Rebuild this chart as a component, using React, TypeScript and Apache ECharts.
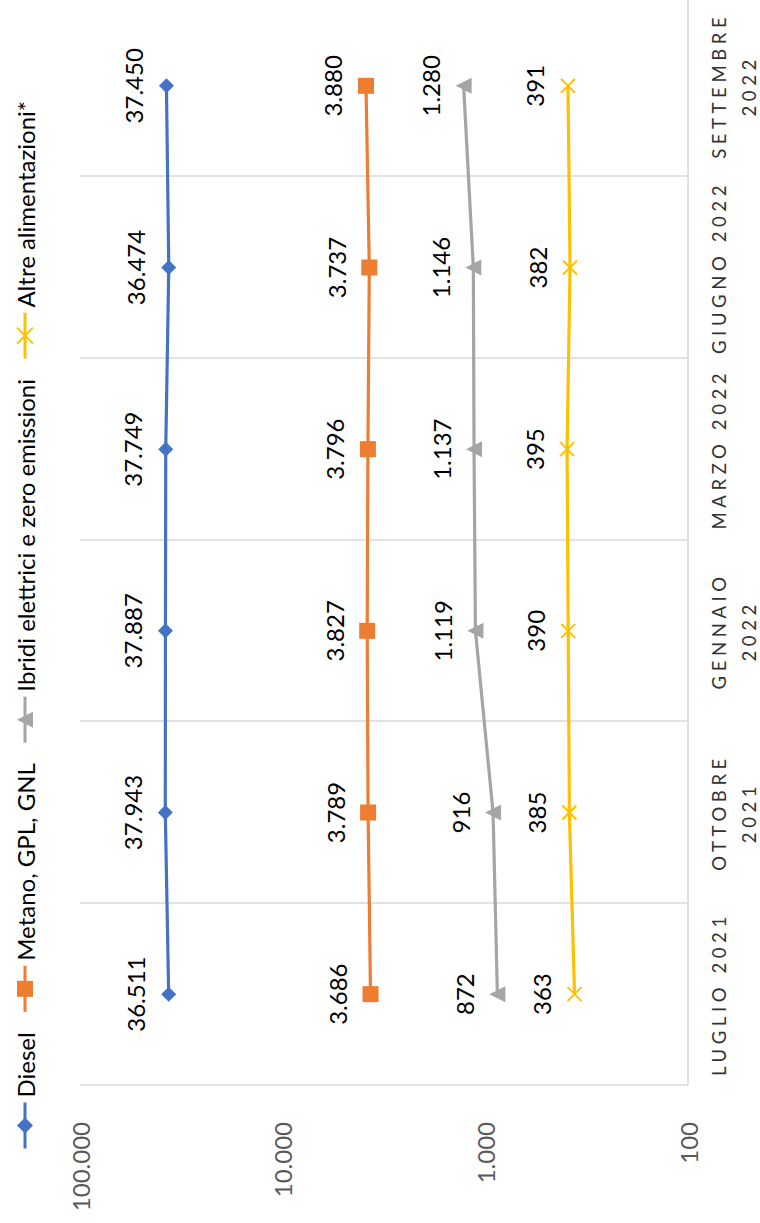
import React, { useEffect, useRef } from "react";
import * as echarts from "echarts";

// ---- data ----
const categories = [
  "LUGLIO 2021",
  "OTTOBRE\n2021",
  "GENNAIO\n2022",
  "MARZO 2022",
  "GIUGNO 2022",
  "SETTEMBRE\n2022",
];
const seriesNames = [
  "Diesel",
  "Metano, GPL, GNL",
  "Ibridi elettrici e zero emissioni",
  "Altre alimentazioni*",
];
const diesel = [36511, 37943, 37887, 37749, 36474, 37450];
const metano = [3686, 3789, 3827, 3796, 3737, 3880];
const ibridi = [872, 916, 1119, 1137, 1146, 1280];
const altre = [363, 385, 390, 395, 382, 391];
const valueAxisMin = 100;
const valueAxisMax = 100000;

const fmt = (n: number) =>
  String(Math.round(n)).replace(/\B(?=(\d{3})+(?!\d))/g, ".");

const CW = 1223;
const CH = 760;

export default function App() {
  const ref = useRef<HTMLDivElement>(null);

  useEffect(() => {
    document.body.style.margin = "0";
    if (!ref.current) return;
    const chart = echarts.init(ref.current, undefined, { renderer: "svg" });

    const labelStyle = {
      show: true,
      position: "inside",
      offset: [0, -33],
      formatter: (p: any) => fmt(p.value),
      fontSize: 24,
      fontFamily: "Lato",
      color: "#000000",
    };

    const mk = (
      name: string,
      data: number[],
      color: string,
      symbol: string,
      symbolSize: number,
      itemStyle?: any
    ) => ({
      name,
      type: "line",
      data,
      symbol,
      symbolSize,
      showSymbol: true,
      lineStyle: { color, width: 3.2 },
      itemStyle: itemStyle || { color },
      label: labelStyle,
      emphasis: { disabled: true },
    });

    chart.setOption({
      animation: false,
      backgroundColor: "#ffffff",
      legend: {
        left: 68,
        top: 8,
        itemWidth: 46,
        itemHeight: 20,
        itemGap: 19,
        lineStyle: { width: 3 },
        textStyle: { fontFamily: "Lato", fontSize: 24, color: "#000000" },
        data: seriesNames,
      },
      grid: {
        left: 138,
        top: 80,
        width: 1090,
        height: 608,
        containLabel: false,
        outerBoundsMode: "none",
      },
      xAxis: {
        type: "category",
        data: categories,
        boundaryGap: true,
        axisLine: { show: true, lineStyle: { color: "#D9D9D9", width: 1.5 } },
        axisTick: { show: false },
        splitLine: {
          show: true,
          interval: 0,
          lineStyle: { color: "#D9D9D9", width: 1.5 },
        },
        axisLabel: {
          interval: 0,
          margin: 16,
          lineHeight: 30,
          fontSize: 18.5,
          fontFamily: "Lato, catlbl",
          color: "#333333",
        },
      },
      yAxis: {
        type: "log",
        logBase: 10,
        min: valueAxisMin,
        max: valueAxisMax,
        axisLine: { show: false },
        axisTick: { show: false },
        splitLine: { show: false },
        axisLabel: {
          formatter: (v: number) => fmt(v),
          fontSize: 24,
          fontFamily: "Lato",
          color: "#595959",
          margin: 37,
        },
      },
      series: [
        mk(seriesNames[0], diesel, "#4472C4", "diamond", 15),
        mk(seriesNames[1], metano, "#ED7D31", "rect", 16),
        mk(seriesNames[2], ibridi, "#A5A5A5", "triangle", 16),
        mk(seriesNames[3], altre, "#FFC000", "path://M0,0L10,10M10,0L0,10", 14, {
          color: "#FFC000",
          borderColor: "#FFC000",
          borderWidth: 2,
        }),
      ],
    });

    return () => chart.dispose();
  }, []);

  return (
    <div
      style={{
        position: "relative",
        width: 760,
        height: 1223,
        overflow: "hidden",
        background: "#ffffff",
      }}
    >
      <style>{`text[style*="catlbl"] { letter-spacing: 4.6px; }`}</style>
      <div
        ref={ref}
        style={{
          position: "absolute",
          left: 0,
          top: 0,
          width: CW,
          height: CH,
          transformOrigin: "0 0",
          transform: `translate(0px, ${CW}px) rotate(-90deg)`,
        }}
      />
    </div>
  );
}
